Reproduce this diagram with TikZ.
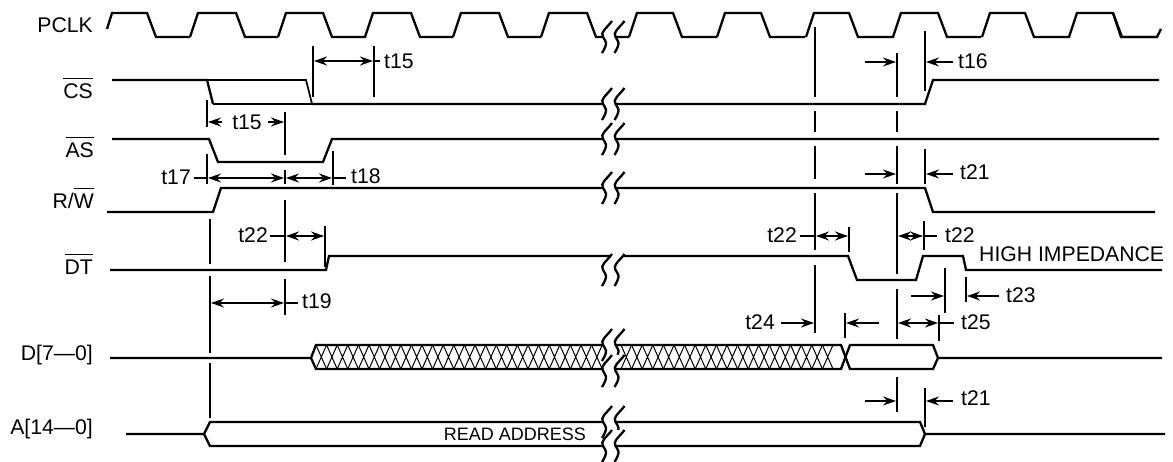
\documentclass[tikz,border=0pt]{standalone}
\usepackage{fontspec}
\usepackage{amsmath}
\setmainfont{Liberation Sans}
\usetikzlibrary{arrows.meta}
\tikzset{
  sig/.style={line width=2.3pt,line join=miter},
  meas/.style={line width=1.6pt},
  dimto/.style={line width=1.6pt,-{Stealth[length=13pt,width=9pt]}},
  dimboth/.style={line width=1.6pt,{Stealth[length=13pt,width=9pt]}-{Stealth[length=13pt,width=9pt]}},
  lab/.style={font=\fontsize{21.2}{24}\selectfont,inner sep=0pt},
  sigl/.style={lab,anchor=base east}
}
\newcommand{\barlab}[1]{\sbox0{#1}\rlap{\rule[19.5pt]{\wd0}{1.3pt}}\usebox0}
\newcommand{\brkmark}[1]{%
  \begin{scope}[shift={(0,#1)}]
    \fill[white] (612,-16) .. controls (606,-8) and (600,-5) .. (603,0) .. controls (605,4) and (609,5) .. (602,16)
      -- (614.5,16) .. controls (621.5,5) and (617.5,4) .. (615.5,0) .. controls (612.5,-5) and (618.5,-8) .. (624.5,-16) -- cycle;
    \draw[sig] (612,-16) .. controls (606,-8) and (600,-5) .. (603,0) .. controls (605,4) and (609,5) .. (602,16);
    \draw[sig] (624.5,-16) .. controls (618.5,-8) and (612.5,-5) .. (615.5,0) .. controls (617.5,4) and (621.5,5) .. (614.5,16);
  \end{scope}}
\begin{document}
\begin{tikzpicture}[x=1pt,y=-1pt]
  \useasboundingbox (0,0) rectangle (1173,462);

  \node[sigl] (pclk) at (93,33) {PCLK};
  \node[sigl] (cs) at (93,99) {\barlab{CS}};
  \node[sigl] (as) at (94,158) {\barlab{AS}};
  \node[sigl] (rw) at (94,209) {R/\barlab{W}};
  \node[sigl] (dt) at (93,275) {\barlab{DT}};
  \node[sigl] (data) at (93,361) {D[7---0]};
  \node[sigl] (addr) at (93,434) {A[14---0]};

  \draw[sig] (107,29) -- (112,13) -- (147,13) -- (156,37) -- (190,37);
  \foreach \a/\b in {198/236,286/323,373/411,461/499,549/587,637/673,725/761,814/849,901/938,990/1025,1077/1113}
    \draw[sig] (\a-8,37) -- (\a,13) -- (\b,13) -- (\b+9,37) -- ({\a+80},37);
  \draw[sig] (1113,13) -- (1121,37) -- (1157,37) -- (1161,29);

  \draw[sig] (112,80) -- (207,80) -- (213,104);
  \draw[line width=1.7pt] (207,80) -- (306,80) -- (312,104) (213,104) -- (312,104);
  \draw[sig] (312,104) -- (925,104) -- (933,80) -- (1159,80);
  \draw[sig] (112,139) -- (209,139) -- (218,162) -- (323,162) -- (332,139) -- (1159,139);
  \draw[sig] (107,212) -- (213,212) -- (221,188) -- (925,188) -- (933,212) -- (1155,212);
  \draw[sig] (110,270) -- (326,270) -- (329,256) -- (848,256) -- (857,280) -- (916,280) -- (923,256) -- (963,256) -- (966,270) -- (1162,270);

  \foreach \x in {316,326.6,...,594}
    \draw[line width=1pt] (\x,345) -- (\x+10.6,369) (\x,369) -- (\x+10.6,345);
  \foreach \x in {621,631.6,...,830}
    \draw[line width=1pt] (\x,345) -- (\x+10.6,369) (\x,369) -- (\x+10.6,345);
  \draw[sig] (110,358) -- (311,358) -- (316,345) -- (841,345) -- (850,369) -- (933,369) -- (938,358) -- (1162,358);
  \draw[sig] (311,358) -- (316,369) -- (841,369) -- (850,345) -- (933,345) -- (938,358);
  \draw[sig] (126,434) -- (204,434) -- (210,422) -- (920,422) -- (925,434) -- (1165,434);
  \draw[sig] (204,434) -- (210,446) -- (920,446) -- (925,434);
  \node[font=\fontsize{18}{20}\selectfont,inner sep=0pt] (readaddr) at (515,434) {READ ADDRESS};

  \brkmark{37}
  \brkmark{104}
  \brkmark{139}
  \brkmark{188}
  \brkmark{270}
  \brkmark{345}
  \brkmark{371}
  \brkmark{422}
  \brkmark{446}

  \draw[meas] (313,46) -- (313,97) (374,46) -- (374,97);
  \draw[dimboth] (314,61) -- (373,61);
  \draw[meas] (374,61) -- (380,61);
  \node[lab,anchor=west] (tcsa) at (384,61) {t15};

  \draw[meas] (207,100) -- (207,127) (285,112) -- (285,155);
  \draw[dimto] (222,122) -- (208,122);
  \draw[dimto] (268,122) -- (284,122);
  \node[lab] (tcsb) at (247,122) {t15};

  \draw[meas] (207,154) -- (207,184) (285,170) -- (285,184) (333,151) -- (333,185);
  \draw[meas] (194,178) -- (207,178) (333,178) -- (346,178);
  \draw[dimboth] (208,178) -- (284,178);
  \draw[dimboth] (286,178) -- (332,178);
  \node[lab,anchor=east] (tas) at (191,177) {t17};
  \node[lab,anchor=west] (tah) at (351,176) {t18};

  \draw[meas] (285,200) -- (285,262) (285,279) -- (285,315) (325,226) -- (325,267);
  \draw[meas] (270,236) -- (285,236);
  \draw[dimboth] (286,236) -- (324,236);
  \node[lab,anchor=east] (tdta) at (268,235) {t22};

  \draw[meas] (210,219) -- (210,264) (210,276) -- (210,353) (210,363) -- (210,418);
  \draw[dimboth] (211,303) -- (284,303);
  \draw[meas] (285,303) -- (298,303);
  \node[lab,anchor=west] (tad) at (302,301) {t19};

  \draw[meas] (815,27) -- (815,97) (815,111) -- (815,132) (815,146) -- (815,179) (815,193) -- (815,250) (815,265) -- (815,333);
  \draw[meas] (897,53) -- (897,97) (897,111) -- (897,132) (897,146) -- (897,184) (897,193) -- (897,274) (897,289) -- (897,339) (897,377) -- (897,412);

  \draw[meas] (925,31) -- (925,91);
  \draw[dimto] (865,62) -- (896,62);
  \draw[dimto] (953,62) -- (926,62);
  \node[lab,anchor=west] (tcsh) at (958,61) {t16};

  \draw[meas] (925,149) -- (925,184);
  \draw[dimto] (865,174) -- (896,174);
  \draw[dimto] (953,174) -- (926,174);
  \node[lab,anchor=west] (trw) at (960,172) {t21};

  \draw[meas] (849,227) -- (849,252) (800,236) -- (815,236);
  \draw[dimboth] (816,236) -- (848,236);
  \node[lab,anchor=east] (tdtb) at (797,235) {t22};
  \draw[meas] (924,221) -- (924,250) (924,236) -- (937,236);
  \draw[dimboth] (898,236) -- (923,236);
  \node[lab,anchor=west] (tdtc) at (945,235) {t22};
  \node[lab,anchor=west] (hiz) at (979,254) {HIGH IMPEDANCE};

  \draw[meas] (945,268) -- (945,313) (966,277) -- (966,302);
  \draw[dimto] (911,296) -- (944,296);
  \draw[dimto] (999,296) -- (967,296);
  \node[lab,anchor=west] (tdh) at (1006,295) {t23};

  \draw[meas] (845,313) -- (845,338) (939,315) -- (939,341) (939,323) -- (954,323);
  \draw[dimto] (781,323) -- (814,323);
  \draw[dimto] (879,323) -- (846,323);
  \draw[dimboth] (898,323) -- (938,323);
  \node[lab,anchor=east] (tds) at (775,322) {t24};
  \node[lab,anchor=west] (tdz) at (961,322) {t25};

  \draw[meas] (925,388) -- (925,427);
  \draw[dimto] (865,401) -- (896,401);
  \draw[dimto] (953,401) -- (926,401);
  \node[lab,anchor=west] (taddr) at (961,398) {t21};
\end{tikzpicture}
\end{document}
